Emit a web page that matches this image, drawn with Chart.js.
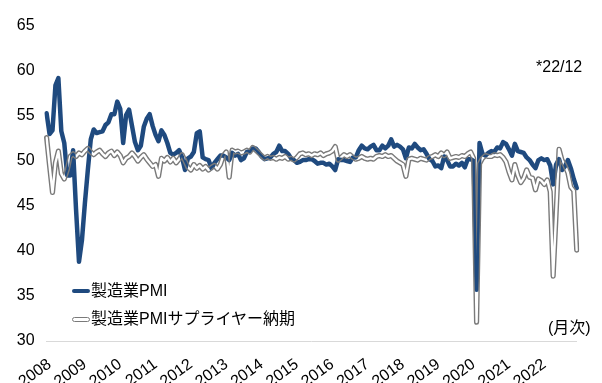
<!DOCTYPE html>
<html>
<head>
<meta charset="utf-8">
<script src="https://cdn.jsdelivr.net/npm/chart.js@4.4.1/dist/chart.umd.min.js"></script>
<style>
  body { margin: 0; background: #fff; }
  #wrap { position: relative; width: 602px; height: 383px; overflow: hidden;
          font-family: "Liberation Sans", "Noto Sans CJK JP", sans-serif; color: #000; }
  #wrap canvas { position: absolute; left: 0; top: 0; }
  .txt { position: absolute; white-space: nowrap; line-height: 1; }
  .key { position: absolute; width: 18px; box-sizing: border-box; }
</style>
</head>
<body>
<div id="wrap">
  <canvas id="myChart" width="602" height="383"></canvas>
  <div class="txt" style="left:536px;top:59px;font-size:16px;">*22/12</div>
  <div class="key" style="left:72px;top:289px;height:4px;background:#1f4a7f;border-radius:2px;"></div>
  <div class="txt" style="left:91px;top:283px;font-size:16px;">製造業PMI</div>
  <div class="key" style="left:72px;top:317px;height:5px;border:1px solid #7a7a7a;border-radius:3px;"></div>
  <div class="txt" style="left:91px;top:311px;font-size:16px;">製造業PMIサプライヤー納期</div>
  <div class="txt" style="left:548px;top:320px;font-size:16px;">(月次)</div>
</div>
<script>
// year tick labels, data starts 2007/12
const years = ["2008", "2009", "2010", "2011", "2012", "2013", "2014", "2015",
  "2016", "2017", "2018", "2019", "2020", "2021", "2022"];
const months = [1, 2, 3, 4, 5, 6, 7, 8, 9, 10, 11, 12];
const labels = ["2007/12"].concat(years.flatMap((y) => months.map((m) => `${y}/${m}`)));

// 製造業PMI
const pmi = [
  55.3,
  53.0, 53.4, 58.4, 59.2, 53.3, 52.0, 48.4, 48.4, 51.2, 44.6, 38.8, 41.2, // 2008
  45.3, 49.0, 52.4, 53.5, 53.1, 53.2, 53.3, 54.0, 54.3, 55.2, 55.2, 56.6, // 2009
  55.8, 52.0, 55.1, 55.7, 53.9, 52.1, 51.2, 51.7, 53.8, 54.7, 55.2, 53.9, // 2010
  52.9, 52.2, 53.4, 52.9, 52.0, 50.9, 50.7, 50.9, 51.2, 50.4, 49.0, 50.3, // 2011
  50.5, 51.0, 53.1, 53.3, 50.4, 50.2, 50.1, 49.2, 49.8, 50.2, 50.6, 50.6, // 2012
  50.4, 50.1, 50.9, 50.6, 50.8, 50.1, 50.3, 51.0, 51.1, 51.4, 51.4, 51.0, // 2013
  50.5, 50.2, 50.3, 50.4, 50.8, 51.0, 51.7, 51.1, 51.1, 50.8, 50.3, 50.1, // 2014
  49.8, 49.9, 50.1, 50.1, 50.2, 50.2, 50.0, 49.7, 49.8, 49.8, 49.6, 49.7, // 2015
  49.4, 49.0, 50.2, 50.1, 50.1, 50.0, 49.9, 50.4, 50.4, 51.2, 51.7, 51.4, // 2016
  51.3, 51.6, 51.8, 51.2, 51.2, 51.7, 51.4, 51.7, 52.4, 51.6, 51.8, 51.6, // 2017
  51.3, 50.3, 51.5, 51.4, 51.9, 51.5, 51.2, 51.3, 50.8, 50.2, 50.0, 49.4, // 2018
  49.5, 49.2, 50.5, 50.1, 49.4, 49.4, 49.7, 49.5, 49.8, 49.3, 50.2, 50.2, // 2019
  50.0, 35.7, 52.0, 50.8, 50.6, 50.9, 51.1, 51.0, 51.5, 51.4, 52.1, 51.9, // 2020
  51.3, 50.6, 51.9, 51.1, 51.0, 50.9, 50.4, 50.1, 49.6, 49.2, 50.1, 50.3, // 2021
  50.1, 50.2, 49.5, 47.4, 49.6, 50.2, 49.0, 49.4, 50.1, 49.2, 48.0, 47.0, // 2022
];

// 製造業PMIサプライヤー納期
const delivery = [
  52.6,
  49.5, 46.5, 49.8, 51.1, 48.6, 48.0, 49.0, 50.5, 50.8, 50.5, 50.9, 50.7, // 2008
  51.1, 51.4, 51.0, 50.7, 51.0, 51.2, 50.8, 50.5, 50.9, 51.1, 50.6, 51.0, // 2009
  50.6, 49.8, 50.3, 50.5, 50.9, 50.5, 50.0, 50.4, 50.7, 50.2, 49.8, 49.4, // 2010
  49.6, 48.3, 50.3, 50.0, 50.4, 49.9, 50.3, 49.8, 50.2, 50.7, 50.0, 49.3, // 2011
  49.0, 49.6, 49.2, 49.5, 49.1, 49.4, 49.0, 49.3, 49.5, 49.1, 49.6, 50.6, // 2012
  51.0, 48.2, 51.2, 51.0, 51.1, 50.9, 51.0, 51.2, 51.0, 51.5, 51.2, 50.9, // 2013
  50.6, 50.3, 50.5, 50.3, 50.4, 50.2, 50.4, 50.3, 50.5, 50.2, 50.3, 50.1, // 2014
  50.4, 50.8, 50.9, 50.7, 50.8, 50.6, 50.8, 50.7, 50.9, 50.6, 50.8, 50.9, // 2015
  51.1, 51.6, 50.1, 50.4, 50.7, 50.5, 50.7, 50.4, 50.2, 50.3, 50.5, 50.3, // 2016
  50.2, 50.3, 50.2, 50.5, 50.6, 50.5, 50.7, 50.5, 50.6, 50.3, 50.0, 49.8, // 2017
  49.6, 48.3, 50.2, 50.3, 50.2, 50.1, 50.3, 50.2, 50.1, 50.4, 50.5, 50.7, // 2018
  50.5, 50.9, 50.6, 51.0, 50.3, 50.4, 50.5, 50.4, 50.6, 50.5, 50.8, 51.0, // 2019
  50.3, 32.1, 49.7, 50.3, 50.6, 50.5, 50.5, 50.7, 50.6, 50.7, 50.4, 49.9, // 2020
  48.8, 47.9, 49.6, 48.4, 47.6, 48.1, 49.0, 48.2, 48.1, 46.8, 48.0, 47.8, // 2021
  47.4, 47.9, 46.6, 37.2, 44.1, 51.3, 50.1, 49.5, 48.7, 47.1, 46.7, 40.1, // 2022
];

const yTicks = { min: 30, max: 65, step: 5 };

// double line: grey stroke, then a cut through the middle, PMI painted underneath
const layering = {
  id: "layering",
  beforeDatasetDraw(chart, args) {
    const op = chart.data.datasets[args.index].compositeOp;
    chart.ctx.save();
    if (op) chart.ctx.globalCompositeOperation = op;
  },
  afterDatasetDraw(chart) {
    chart.ctx.restore();
  },
};

const ctx = document.getElementById("myChart").getContext("2d");
new Chart(ctx, {
  type: "line",
  data: {
    labels: labels,
    datasets: [
      {
        label: "製造業PMI",
        data: pmi,
        borderColor: "#1f4a7f",
        borderWidth: 4.5,
        order: 1,
        compositeOp: "destination-over",
      },
      {
        label: "cut",
        data: delivery,
        borderColor: "#000",
        borderWidth: 2.4,
        order: 2,
        compositeOp: "destination-out",
      },
      {
        label: "製造業PMIサプライヤー納期",
        data: delivery,
        borderColor: "#7a7a7a",
        borderWidth: 5.2,
        order: 3,
      },
    ],
  },
  options: {
    responsive: false,
    animation: false,
    events: [],
    elements: {
      point: { radius: 0 },
      line: { tension: 0, borderJoinStyle: "round", borderCapStyle: "round", fill: false },
    },
    layout: { padding: { left: 0, right: 19.7, top: 26, bottom: 0 } },
    plugins: { legend: { display: false }, tooltip: { enabled: false } },
    scales: {
      x: {
        type: "category",
        offset: false,
        grid: { display: false, drawTicks: false },
        border: { display: true, color: "#d9d9d9", width: 1 },
        afterFit(scale) { scale.height = 42; },
        ticks: {
          autoSkip: false,
          minRotation: 36,
          maxRotation: 36,
          padding: 14,
          color: "#000",
          font: { family: "Liberation Sans", size: 16 },
          callback(value) {
            const l = this.getLabelForValue(value);
            return l.endsWith("/1") ? l.slice(0, 4) : "";
          },
        },
      },
      y: {
        min: yTicks.min,
        max: yTicks.max,
        grid: { display: false, drawTicks: false },
        border: { display: false },
        afterFit(scale) { scale.width = 46.6; },
        ticks: {
          stepSize: yTicks.step,
          padding: 12,
          color: "#000",
          font: { family: "Liberation Sans", size: 16 },
        },
      },
    },
  },
  plugins: [layering],
});
</script>
</body>
</html>
